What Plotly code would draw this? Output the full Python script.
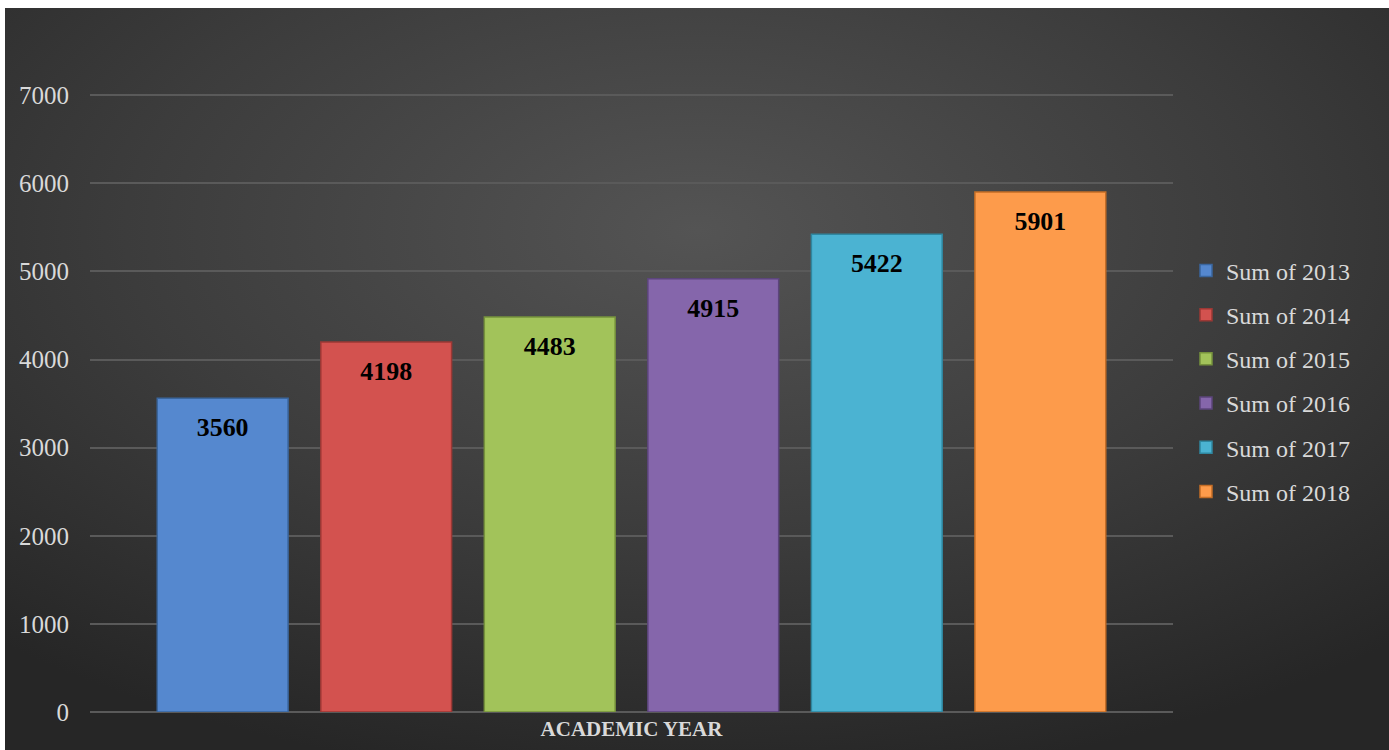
import base64
import plotly.graph_objects as go

category = ["ACADEMIC YEAR"]
series_names = ["Sum of 2013", "Sum of 2014", "Sum of 2015", "Sum of 2016", "Sum of 2017", "Sum of 2018"]
series_values = [3560, 4198, 4483, 4915, 5422, 5901]
colors = ["#5588cf", "#d3524f", "#a2c35a", "#8566ab", "#4bb3d2", "#fd9b4b"]
edge_colors = ["#3a669e", "#9c3835", "#76923c", "#5c457c", "#2f87a0", "#c46d26"]
y_ticks = [0, 1000, 2000, 3000, 4000, 5000, 6000, 7000]

W, H = 1389, 750
L, R, T, B = 90, 1173, 7, 712
pw, ph = R - L, B - T

svg = f'''<svg xmlns="http://www.w3.org/2000/svg" width="{W}" height="{H}" viewBox="0 0 {W} {H}" preserveAspectRatio="none">
<defs><radialGradient id="g" cx="0.5" cy="0.3" r="0.75" gradientUnits="objectBoundingBox">
<stop offset="0" stop-color="#545454"/><stop offset="0.55" stop-color="#3c3c3c"/><stop offset="1" stop-color="#262626"/>
</radialGradient></defs><rect width="{W}" height="{H}" fill="url(#g)"/></svg>'''
src = "data:image/svg+xml;base64," + base64.b64encode(svg.encode()).decode()

pad = "<span style='font-size:30px'>\u00a0</span>"
label_tpl = pad + "<sub>%{y}</sub>" + pad

fig = go.Figure()
for i, (name, val) in enumerate(zip(series_names, series_values)):
    fig.add_trace(go.Bar(
        x=category, y=[val], name=name, legendgroup=name,
        marker=dict(color=colors[i], line=dict(color=edge_colors[i], width=1.5)),
        text=[val], texttemplate=label_tpl, textposition="inside", insidetextanchor="end",
        textfont=dict(family="Liberation Serif", size=37, color="#000000", weight="bold"),
        cliponaxis=False,
    ))

bx0, by1 = 5, 8
fig.add_layout_image(dict(
    source=src, xref="paper", yref="paper",
    x=(bx0 - L) / pw, y=(B - by1) / ph,
    sizex=(W - bx0) / pw, sizey=(H - by1) / ph,
    xanchor="left", yanchor="top", sizing="stretch", layer="below",
))

fig.update_layout(
    width=W, height=H,
    margin=dict(l=L, r=W - R, t=T, b=H - B, pad=0),
    paper_bgcolor="#ffffff", plot_bgcolor="rgba(0,0,0,0)",
    barmode="group", bargap=0.094, bargroupgap=0.2,
    font=dict(family="Liberation Serif", color="#d9d9d9"),
    showlegend=True,
    legend=dict(
        x=(1186 - L) / pw, y=0.469, xanchor="left", yanchor="middle",
        font=dict(family="Liberation Serif", size=24, color="#d9d9d9"),
        bgcolor="rgba(0,0,0,0)", traceorder="grouped", tracegroupgap=10,
        itemwidth=30,
    ),
    uniformtext=dict(mode=False),
)
fig.update_xaxes(
    showgrid=False, showline=False, zeroline=False, ticks="",
    tickfont=dict(family="Liberation Serif", size=21, color="#d9d9d9", weight="bold"),
    ticklabelstandoff=2,
)
fig.update_yaxes(
    range=[0, 8000], tickvals=y_ticks, ticktext=[str(v) for v in y_ticks],
    showgrid=True, gridcolor="#5a5a5a", gridwidth=1.5,
    zeroline=True, zerolinecolor="#5a5a5a", zerolinewidth=1.5,
    showline=False, ticks="",
    tickfont=dict(family="Liberation Serif", size=25, color="#d9d9d9"),
    ticklabelstandoff=20,
)

fig.write_html("out.html", config={"displayModeBar": False},
               post_script="document.body.style.margin='0px';")
